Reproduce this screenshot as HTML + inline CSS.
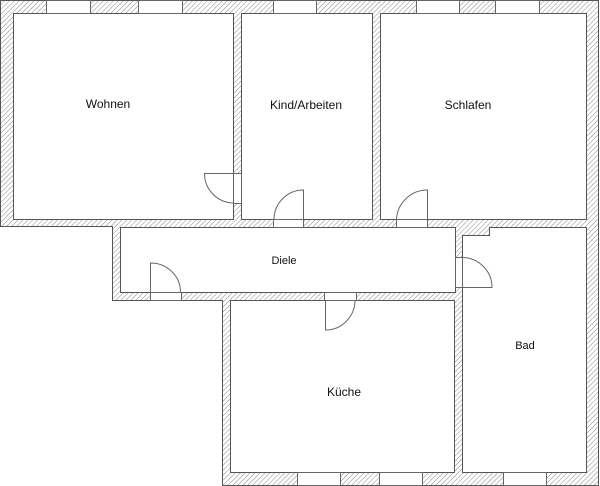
<!DOCTYPE html>
<html><head><meta charset="utf-8"><style>
html,body{margin:0;padding:0;background:#fff;}
svg{display:block;}
text{font-family:"Liberation Sans",sans-serif;fill:#111;}
</style></head><body>
<svg width="600" height="486" viewBox="0 0 600 486" xmlns="http://www.w3.org/2000/svg">
<defs>
<pattern id="h" width="3.5" height="3.5" patternUnits="userSpaceOnUse" patternTransform="rotate(45)">
<rect width="3.5" height="3.5" fill="#fff"/>
<line x1="0" y1="0" x2="0" y2="3.5" stroke="#888" stroke-width="1"/>
</pattern>
</defs>
<g shape-rendering="crispEdges">
<polygon points="0.5,0.5 598.5,0.5 598.5,485.5 222.5,485.5 222.5,300.5 112.5,300.5 112.5,226.5 0.5,226.5" fill="url(#h)" stroke="#555" stroke-width="1"/>
<!-- rooms -->
<rect x="13.5" y="13.5" width="220" height="206" fill="#fff" stroke="#555"/>
<rect x="241.5" y="13.5" width="131" height="206" fill="#fff" stroke="#555"/>
<rect x="380.5" y="13.5" width="206" height="206" fill="#fff" stroke="#555"/>
<rect x="120.5" y="227.5" width="335" height="65" fill="#fff" stroke="#555"/>
<rect x="230.5" y="300.5" width="224" height="172" fill="#fff" stroke="#555"/>
<polygon points="462.5,235.5 489.5,235.5 489.5,227.5 586.5,227.5 586.5,472.5 462.5,472.5" fill="#fff" stroke="#555"/>
<!-- windows top -->
<g fill="#fff" stroke="#666">
<rect x="46.5" y="0.5" width="44" height="13"/>
<rect x="138.5" y="0.5" width="44" height="13"/>
<rect x="273.5" y="0.5" width="43" height="13"/>
<rect x="416.5" y="0.5" width="43" height="13"/>
<rect x="495.5" y="0.5" width="44" height="13"/>
<!-- windows bottom -->
<rect x="297.5" y="472.5" width="43" height="13"/>
<rect x="379.5" y="472.5" width="43" height="13"/>
<rect x="503.5" y="472.5" width="43" height="13"/>
<!-- door gaps -->
<rect x="233.5" y="173.5" width="8" height="30"/>
<rect x="273.5" y="219.5" width="30" height="8"/>
<rect x="396.5" y="219.5" width="31" height="8"/>
<rect x="150.5" y="292.5" width="31" height="8"/>
<rect x="324.5" y="292.5" width="32" height="8"/>
<rect x="455.5" y="257.5" width="7" height="30"/>
</g>
</g>
<!-- door leaves & arcs -->
<g fill="none" stroke="#666" stroke-width="1">
<path d="M234,173.5 H204.5 A29.5,29.5 0 0 0 234,203"/>
<path d="M303.5,219 V190 A29.5,29.5 0 0 0 274,219"/>
<path d="M427.5,219 V190 A31,31 0 0 0 396.5,219"/>
<path d="M150.5,292 V263 A30,29 0 0 1 180.5,292"/>
<path d="M325.5,300 V330 A29.5,30 0 0 0 355,300"/>
<path d="M462,287.5 H492 A30,30 0 0 0 462,257.5"/>
</g>
<text x="108" y="108" font-size="12" text-anchor="middle">Wohnen</text>
<text x="306" y="109" font-size="12" text-anchor="middle">Kind/Arbeiten</text>
<text x="468" y="109" font-size="12" text-anchor="middle">Schlafen</text>
<text x="284" y="264" font-size="11" text-anchor="middle">Diele</text>
<text x="344" y="396" font-size="12" text-anchor="middle">Küche</text>
<text x="525" y="349" font-size="11" text-anchor="middle">Bad</text>
</svg>
</body></html>
